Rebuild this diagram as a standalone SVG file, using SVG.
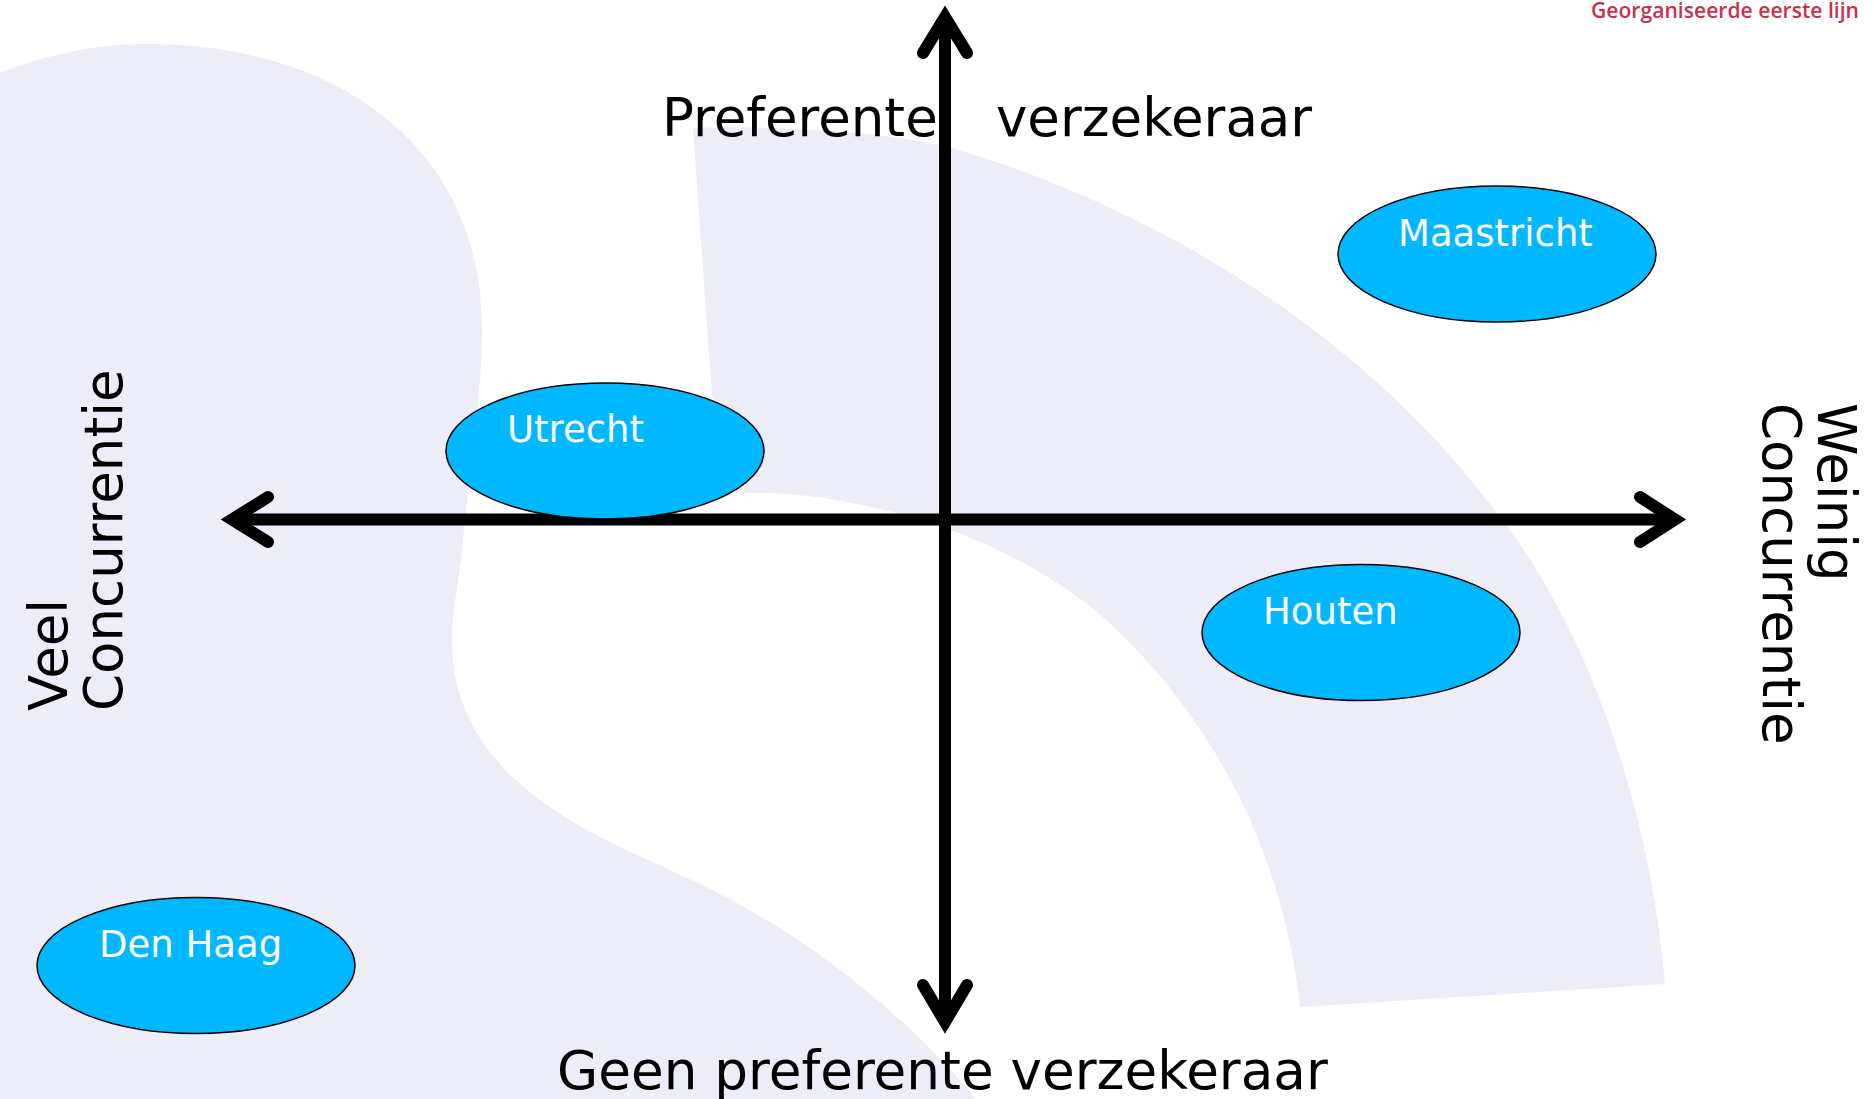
<svg xmlns="http://www.w3.org/2000/svg" width="1876" height="1099" viewBox="0 0 1876 1099">
<defs><style>
.bg{fill:#ecedf6;stroke:none}
.axis{fill:none;stroke:#000;stroke-width:12}
.head{fill:none;stroke:#000;stroke-width:12;stroke-linecap:round;stroke-linejoin:miter;stroke-miterlimit:6}
.city{fill:#00b8ff;stroke:#000;stroke-width:1.5}
.cityt{font-family:"DejaVu Sans",sans-serif;font-size:37px;fill:#fff}
.lab{font-family:"DejaVu Sans",sans-serif;font-size:53px;fill:#000}
</style></defs>
<rect width="1876" height="1099" fill="#fff"/>
<g id="background">
<path class="bg" d="M0 73C45 55 95 44 147 44C330 44 482 140 482 330C482 400 466 500 461 560C455 600 451 625 452 646C453 700 478 755 540 800C600 845 680 870 744 907C830 955 915 1025 976 1099L0 1099Z"/>
<path class="bg" d="M693 128C780 126 865 130 945 146C1150 205 1360 330 1496 512C1590 630 1650 810 1665 984L1300 1007C1283 850 1210 710 1096 611C1040 566 970 532 893 512C845 500 800 493 760 493L735 493L712 395Z"/>
</g>
<g id="connectors">
<path class="axis" d="M232 519.500H1675M945 17V1021"/>
<path class="head" d="M268 497L232 519.500L268 542"/>
<path class="head" d="M1640 497L1675 519.500L1640 542"/>
<path class="head" d="M923 53L945 17L967 53"/>
<path class="head" d="M923 985L945 1022L967 985"/>
</g>
<g id="utrecht"><ellipse class="city" cx="605" cy="451" rx="159" ry="68"/><text class="cityt" x="507" y="442">Utrecht</text></g>
<g id="maastricht"><ellipse class="city" cx="1497" cy="254" rx="159" ry="68"/><text class="cityt" x="1398" y="246">Maastricht</text></g>
<g id="houten"><ellipse class="city" cx="1361" cy="632.500" rx="159" ry="68"/><text class="cityt" x="1263" y="624">Houten</text></g>
<g id="denhaag"><ellipse class="city" cx="196" cy="965.500" rx="159" ry="68"/><text class="cityt" x="99" y="957">Den Haag</text></g>
<g id="labels">
<text class="lab" x="662" y="136">Preferente<tspan x="996">verzekeraar</tspan></text>
<text class="lab" x="557" y="1089" style="font-size:53.200px">Geen preferente verzekeraar</text>
<text class="lab" transform="translate(67,711) rotate(-90)">Veel</text>
<text class="lab" transform="translate(122,711) rotate(-90)">Concurrentie</text>
<text class="lab" transform="translate(1818,403) rotate(90)">Weinig</text>
<text class="lab" transform="translate(1763,403) rotate(90)">Concurrentie</text>
<text x="1591" y="18" font-family="'Open Sans',sans-serif" font-size="21" font-weight="600" fill="#c8324a" textLength="268" lengthAdjust="spacingAndGlyphs">Georganiseerde eerste lijn</text>
</g>
</svg>
